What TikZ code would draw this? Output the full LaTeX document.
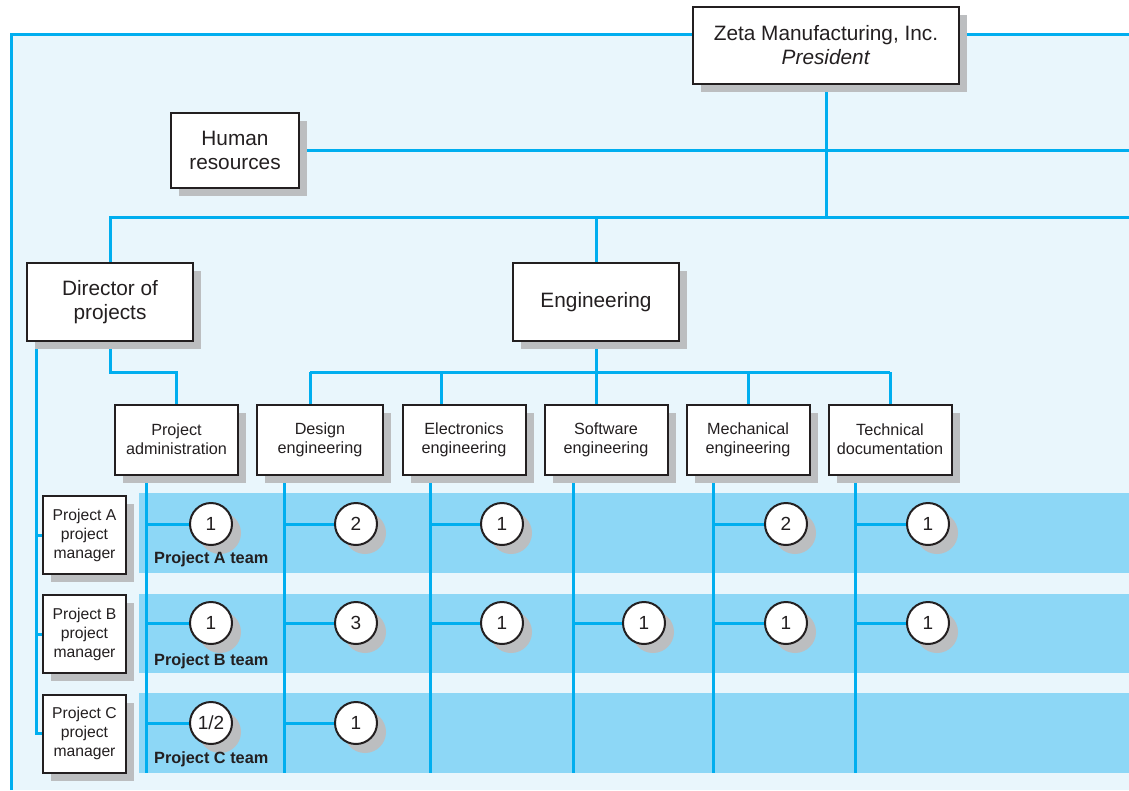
\documentclass[tikz,border=0pt]{standalone}
\usepackage{fontspec}
\setmainfont{Liberation Sans}
\usetikzlibrary{shadows}
\definecolor{linkblue}{HTML}{00AEEF}
\definecolor{paleblue}{HTML}{E9F6FC}
\definecolor{teamblue}{HTML}{8DD7F6}
\definecolor{shade}{HTML}{BCBEC0}
\definecolor{ink}{HTML}{231F20}
\pgfdeclarelayer{back}
\pgfdeclarelayer{lines}
\pgfsetlayers{back,lines,main}
\tikzset{
  link/.style={draw=linkblue, line width=3pt},
  unit/.style={draw=ink, line width=2pt, fill=white, text=ink, align=center,
    inner sep=0pt,
    drop shadow={shadow xshift=8pt, shadow yshift=-8pt, fill=shade, opacity=1}},
  bigunit/.style={unit, font=\fontsize{20.8}{24}\selectfont},
  dept/.style={unit, minimum width=123pt, minimum height=70pt,
    font=\fontsize{16.2}{19}\selectfont},
  pm/.style={unit, minimum width=83pt, minimum height=78pt,
    font=\fontsize{15.7}{19}\selectfont},
  staff/.style={circle, draw=ink, line width=2pt, fill=white, text=ink,
    minimum size=42pt, inner sep=0pt, font=\fontsize{19}{19}\selectfont,
    drop shadow={shadow xshift=9pt, shadow yshift=-9pt, fill=shade, opacity=1}},
  team/.style={anchor=west, text=ink, inner sep=0pt,
    font=\bfseries\fontsize{16.3}{18}\selectfont},
}
\begin{document}
\begin{tikzpicture}[x=1pt, y=-1pt]
\useasboundingbox (0,0) rectangle (1129,790);

% ---- organisation units ----
\node[bigunit, minimum width=266pt, minimum height=77pt] (pres) at (826,45.5)
  {Zeta Manufacturing, Inc.\\\textit{President}};
\node[bigunit, minimum width=128pt, minimum height=75pt] (hr) at (235,150)
  {Human\\resources};
\node[bigunit, minimum width=166pt, minimum height=78pt] (dir) at (110,302)
  {Director of\\projects};
\node[bigunit, minimum width=166pt, minimum height=78pt] (eng) at (596,302)
  {Engineering};

\node[dept] (pa)     at (176.5,439.5) {Project\\administration};
\node[dept, minimum width=126pt] (design) at (320,439.5) {Design\\engineering};
\node[dept] (elec)   at (464,439.5) {Electronics\\engineering};
\node[dept] (soft)   at (606,439.5) {Software\\engineering};
\node[dept] (mech)   at (748,439.5) {Mechanical\\engineering};
\node[dept] (tech)   at (890,439.5) {Technical\\documentation};

\node[pm] (pmA) at (84.5,535)   {Project A\\project\\manager};
\node[pm] (pmB) at (84.5,634)   {Project B\\project\\manager};
\node[pm] (pmC) at (84.5,733.5) {Project C\\project\\manager};

% ---- staff assigned to each project team ----
\foreach \nm/\x/\y/\n in {
    A-PA/211/524/1, A-design/356/524/2, A-elec/502/524/1, A-mech/786/524/2, A-tech/928/524/1,
    B-PA/211/623/1, B-design/356/623/3, B-elec/502/623/1, B-soft/644/623/1, B-mech/786/623/1, B-tech/928/623/1,
    C-PA/211/723/1\slash 2, C-design/356/723/1}
  \node[staff] (\nm) at (\x,\y) {\n};

\node[team] (teamA) at (154,559) {Project A team};
\node[team] (teamB) at (154,661) {Project B team};
\node[team] (teamC) at (154,759) {Project C team};

% ---- frame and team bands ----
\begin{pgfonlayer}{back}
  \fill[white] (0,0) rectangle (1129,790);
  \fill[paleblue] (11,34) rectangle (1129,790);
  \fill[teamblue] (139,493) rectangle (1129,573);
  \fill[teamblue] (139,594) rectangle (1129,673);
  \fill[teamblue] (139,693) rectangle (1129,773);
  \draw[link] (11,790) -- (11,34) -- (1129,34);
\end{pgfonlayer}

% ---- reporting lines ----
\begin{pgfonlayer}{lines}
  \coordinate (busR) at (1129,217);
  \draw[link] (pres.south) -- (pres.south |- busR);
  \draw[link] (hr.east) -- (hr.east -| busR);
  \draw[link] (dir.north) |- (busR);
  \draw[link] (eng.north) -- (eng.north |- busR);

  \coordinate (eDesign) at (310,372);
  \coordinate (eElec)   at (441,372);
  \coordinate (eSoft)   at (596,372);
  \coordinate (eMech)   at (748,372);
  \coordinate (eTech)   at (890,372);
  \draw[link] (eng.south) -- (eSoft);
  \draw[link] (eDesign) -- (eTech);
  \foreach \d/\c in {design/eDesign, elec/eElec, soft/eSoft, mech/eMech, tech/eTech}
    \draw[link] (\c) -- (\c |- \d.north);

  \draw[link] (dir.south) |- (pa.north |- eDesign) -- (pa.north);

  \coordinate (pmTrunk) at (36,341);
  \draw[link] (pmTrunk) |- (pmC.west);
  \draw[link] (pmTrunk |- pmA.west) -- (pmA.west);
  \draw[link] (pmTrunk |- pmB.west) -- (pmB.west);

  \coordinate (colPA)     at (146,773);
  \coordinate (coldesign) at (284,773);
  \coordinate (colelec)   at (430,773);
  \coordinate (colsoft)   at (573,773);
  \coordinate (colmech)   at (713,773);
  \coordinate (coltech)   at (855,773);
  \draw[link] (colPA |- pa.south) -- (colPA);
  \foreach \d in {design, elec, soft, mech, tech}
    \draw[link] (col\d |- \d.south) -- (col\d);

  \foreach \nm/\c in {A-PA/colPA, A-design/coldesign, A-elec/colelec, A-mech/colmech, A-tech/coltech,
      B-PA/colPA, B-design/coldesign, B-elec/colelec, B-soft/colsoft, B-mech/colmech, B-tech/coltech,
      C-PA/colPA, C-design/coldesign}
    \draw[link] (\c |- \nm) -- (\nm);
\end{pgfonlayer}
\end{tikzpicture}
\end{document}
